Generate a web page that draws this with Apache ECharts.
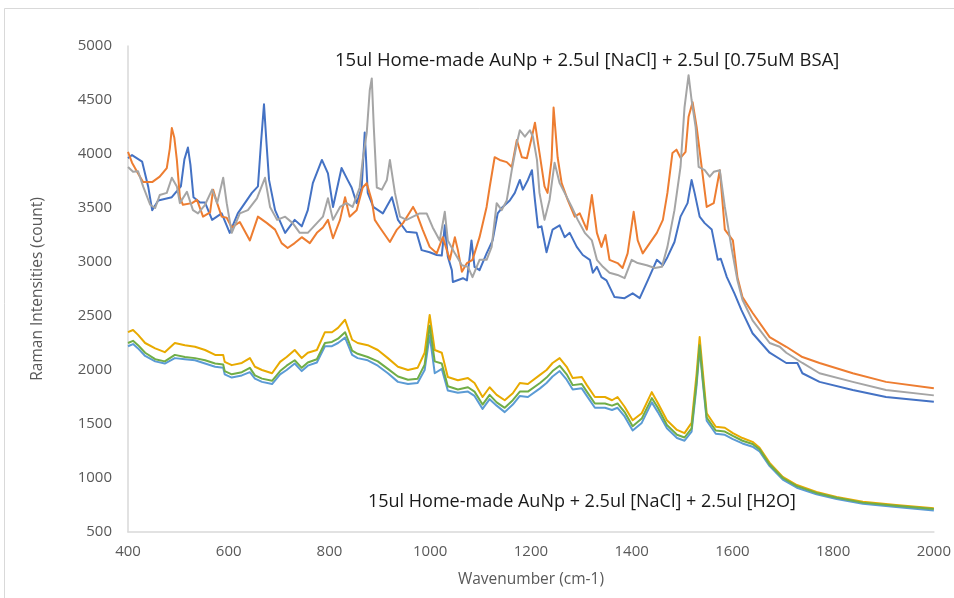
<!DOCTYPE html>
<html>
<head>
<meta charset="utf-8">
<script src="https://cdn.jsdelivr.net/npm/echarts@6/dist/echarts.min.js"></script>
<style>
  html, body { margin: 0; padding: 0; background: #ffffff; }
  #chart { width: 954px; height: 598px; }
</style>
</head>
<body>
<div id="chart"></div>
<script>
// Raman spectra: [wavenumber (cm-1), intensity (count)]

// 15ul AuNp + 2.5ul NaCl + 2.5ul 0.75uM BSA (three runs)
const bsaRun1 = [[400,3960],[408,3990],[428,3930],[440,3700],[448,3480],[460,3570],[487,3600],[505,3700],[512,3950],[519,4060],[524,3900],[530,3600],[543,3550],[553,3550],[567,3390],[586,3450],[602,3270],[618,3450],[646,3640],[658,3700],[664,4100],[670,4460],[675,4100],[680,3760],[692,3480],[712,3270],[731,3390],[745,3330],[757,3480],[767,3730],[785,3945],[797,3820],[807,3510],[824,3870],[836,3760],[844,3690],[854,3545],[864,3690],[870,4200],[876,3640],[887,3510],[906,3450],[924,3600],[936,3390],[953,3280],[973,3270],[983,3110],[999,3090],[1013,3065],[1023,3060],[1029,3340],[1035,3050],[1043,2925],[1045,2815],[1065,2850],[1073,2830],[1082,3200],[1088,2955],[1098,2925],[1112,3080],[1124,3200],[1134,3450],[1144,3510],[1158,3570],[1168,3640],[1178,3760],[1184,3670],[1194,3760],[1202,3850],[1208,3570],[1214,3320],[1221,3330],[1231,3090],[1243,3300],[1257,3340],[1267,3230],[1277,3270],[1291,3140],[1303,3065],[1317,3020],[1323,2900],[1331,2955],[1340,2860],[1350,2830],[1366,2675],[1386,2665],[1402,2710],[1416,2665],[1432,2830],[1450,3020],[1462,2970],[1471,3045],[1485,3185],[1497,3420],[1511,3545],[1519,3760],[1525,3640],[1535,3420],[1545,3360],[1559,3300],[1571,3020],[1577,3030],[1589,2860],[1604,2710],[1618,2555],[1640,2340],[1674,2160],[1707,2065],[1729,2065],[1739,1970],[1773,1890],[1839,1815],[1905,1750],[2000,1705]];

const bsaRun2 = [[400,4020],[408,3920],[420,3820],[430,3740],[448,3740],[463,3790],[477,3870],[483,4050],[487,4240],[492,4150],[497,3945],[503,3600],[509,3530],[527,3545],[537,3575],[549,3420],[563,3460],[569,3670],[577,3545],[586,3420],[596,3410],[606,3320],[622,3370],[642,3200],[658,3420],[676,3360],[692,3300],[705,3175],[717,3130],[731,3175],[745,3230],[761,3175],[775,3270],[787,3320],[797,3390],[807,3220],[821,3390],[831,3600],[840,3420],[854,3480],[866,3690],[874,3730],[884,3570],[890,3390],[900,3320],[920,3185],[934,3300],[946,3360],[966,3510],[973,3450],[985,3300],[999,3140],[1013,3080],[1025,3230],[1039,3020],[1049,3230],[1055,3110],[1063,2910],[1073,2990],[1084,3020],[1098,3230],[1112,3510],[1118,3690],[1128,3970],[1138,3945],[1152,3925],[1162,3880],[1172,4130],[1182,3970],[1192,3960],[1202,4160],[1208,4290],[1214,4100],[1217,4010],[1227,3700],[1233,3640],[1241,3945],[1245,4430],[1253,3970],[1261,3730],[1273,3575],[1287,3420],[1297,3450],[1311,3300],[1321,3620],[1331,3270],[1340,3140],[1348,3250],[1356,3020],[1372,2990],[1382,2945],[1392,3080],[1404,3465],[1412,3200],[1422,3080],[1436,3175],[1450,3270],[1462,3390],[1471,3640],[1481,4010],[1489,4040],[1497,3965],[1507,4020],[1513,4345],[1521,4480],[1529,4250],[1539,3880],[1549,3510],[1563,3545],[1575,3850],[1585,3300],[1601,3200],[1610,2860],[1620,2675],[1640,2530],[1674,2305],[1707,2215],[1739,2120],[1773,2065],[1839,1970],[1905,1890],[2000,1830]];

const bsaRun3 = [[400,3880],[410,3835],[420,3840],[430,3700],[444,3530],[454,3500],[463,3620],[477,3640],[487,3780],[497,3700],[503,3545],[517,3650],[529,3480],[539,3450],[553,3530],[567,3670],[577,3545],[589,3780],[596,3545],[606,3270],[622,3450],[638,3480],[656,3590],[672,3780],[682,3510],[696,3390],[712,3420],[727,3360],[741,3270],[757,3270],[775,3360],[787,3420],[797,3590],[807,3390],[821,3510],[834,3545],[846,3510],[860,3690],[866,3945],[874,4195],[880,4590],[884,4700],[888,4250],[894,3690],[904,3670],[914,3760],[920,3945],[930,3640],[940,3420],[953,3390],[966,3420],[979,3450],[993,3450],[1005,3320],[1019,3200],[1029,3465],[1035,3200],[1049,3080],[1063,2970],[1075,2955],[1084,2860],[1098,3020],[1112,3020],[1122,3140],[1132,3545],[1142,3480],[1152,3570],[1162,3850],[1172,4100],[1178,4220],[1188,4160],[1198,4220],[1204,4160],[1212,3945],[1217,3640],[1227,3390],[1237,3575],[1247,3920],[1257,3730],[1267,3640],[1281,3510],[1293,3390],[1307,3270],[1321,3200],[1331,3020],[1343,2955],[1356,2900],[1372,2880],[1386,2850],[1400,3020],[1412,2990],[1430,2970],[1446,2945],[1460,2955],[1471,3140],[1485,3480],[1497,3880],[1505,4435],[1513,4730],[1519,4500],[1527,4250],[1533,3880],[1545,3850],[1555,3790],[1563,3835],[1575,3850],[1585,3510],[1598,3140],[1610,2830],[1620,2650],[1640,2460],[1674,2250],[1694,2215],[1707,2160],[1739,2065],[1773,1970],[1839,1890],[1905,1815],[2000,1765]];

// 15ul AuNp + 2.5ul NaCl + 2.5ul H2O (three runs), shared wavenumber grid
const waterWavenumbers = [400,410,420,434,454,473,493,513,533,553,573,589,592,606,626,642,652,666,686,702,715,731,745,757,775,791,805,817,831,845,856,876,896,916,936,956,975,989,999,1009,1023,1035,1055,1075,1088,1104,1118,1132,1148,1164,1178,1194,1218,1231,1243,1257,1271,1283,1301,1311,1327,1347,1361,1372,1386,1402,1420,1440,1452,1470,1490,1505,1519,1529,1535,1541,1549,1567,1585,1601,1620,1640,1654,1674,1700,1728,1767,1807,1859,1925,2000];

const waterRun1 = [2350,2370,2325,2250,2200,2165,2250,2230,2215,2185,2140,2140,2075,2045,2065,2110,2030,2000,1970,2075,2120,2185,2110,2160,2185,2350,2350,2390,2465,2280,2250,2230,2185,2110,2030,2000,2020,2160,2510,2185,2160,1935,1905,1925,1880,1750,1840,1770,1720,1785,1880,1870,1955,2000,2065,2110,2030,1925,1935,1860,1750,1750,1720,1750,1660,1535,1600,1795,1695,1535,1445,1415,1510,1970,2305,2000,1600,1475,1465,1415,1370,1335,1280,1140,1010,935,870,825,780,750,720];

const waterRun2 = [2220,2240,2200,2130,2080,2060,2110,2100,2090,2060,2030,2020,1960,1930,1950,1980,1920,1890,1870,1960,2000,2060,1990,2040,2070,2220,2220,2250,2300,2140,2110,2090,2040,1970,1890,1870,1880,2000,2320,1970,2010,1810,1790,1800,1760,1640,1730,1670,1610,1680,1760,1750,1830,1880,1940,1990,1910,1820,1830,1760,1650,1650,1630,1650,1570,1440,1510,1700,1610,1460,1370,1345,1430,1860,2200,1900,1530,1410,1400,1360,1320,1290,1245,1110,985,910,850,805,762,732,700];

const waterRun3 = [2250,2270,2230,2160,2100,2080,2140,2120,2110,2090,2060,2050,1990,1960,1980,2020,1950,1920,1900,1990,2040,2090,2020,2070,2100,2250,2260,2290,2350,2180,2150,2120,2080,2010,1940,1910,1920,2050,2410,2080,2060,1850,1820,1840,1800,1680,1770,1700,1650,1720,1800,1800,1880,1930,1990,2040,1960,1860,1870,1800,1690,1690,1670,1690,1610,1480,1550,1740,1650,1490,1400,1375,1460,1900,2230,1930,1560,1440,1430,1390,1345,1315,1265,1125,1000,925,862,818,772,742,712];

const xTicks = { min: 400, max: 2000, step: 200 };
const yTicks = { min: 500, max: 5000, step: 500 };

const labelTop = '15ul Home-made AuNp + 2.5ul [NaCl] + 2.5ul [0.75uM BSA]';
const labelBottom = '15ul Home-made AuNp + 2.5ul [NaCl] + 2.5ul [H2O]';

const pair = (xs, ys) => xs.map((x, i) => [x, ys[i]]);

const FONT = '"Open Sans", "Liberation Sans", sans-serif';
const chart = echarts.init(document.getElementById('chart'), null, { renderer: 'canvas' });

function lineSeries(name, data, color) {
  return {
    name, type: 'line', data,
    showSymbol: false, symbol: 'none',
    lineStyle: { color, width: 2, join: 'round' },
    itemStyle: { color },
    emphasis: { disabled: true },
    animation: false
  };
}

const plainNumber = (v) => String(v);

chart.setOption({
  backgroundColor: '#ffffff',
  animation: false,
  grid: { left: 128, right: 19, top: 46, bottom: 66, containLabel: false },
  xAxis: {
    type: 'value',
    min: xTicks.min, max: xTicks.max, interval: xTicks.step,
    name: 'Wavenumber (cm-1)',
    nameLocation: 'middle', nameGap: 40,
    nameTextStyle: { color: '#595959', fontSize: 15.5, fontFamily: FONT },
    axisLine: { show: true, lineStyle: { color: '#D9D9D9', width: 1.5 } },
    axisTick: { show: false },
    splitLine: { show: false },
    axisLabel: { color: '#595959', fontSize: 15, fontFamily: FONT, margin: 12, formatter: plainNumber }
  },
  yAxis: {
    type: 'value',
    min: yTicks.min, max: yTicks.max, interval: yTicks.step,
    name: 'Raman Intensities (count)',
    nameLocation: 'middle', nameGap: 82,
    nameTextStyle: { color: '#595959', fontSize: 15.5, fontFamily: FONT },
    axisLine: { show: true, lineStyle: { color: '#D9D9D9', width: 1.5 } },
    axisTick: { show: false },
    splitLine: { show: false },
    axisLabel: { color: '#595959', fontSize: 15, fontFamily: FONT, margin: 16, formatter: plainNumber }
  },
  graphic: [
    {
      type: 'rect', silent: true, z: -1,
      shape: { x: 4.5, y: 8.5, width: 980, height: 620 },
      style: { fill: 'none', stroke: '#D9D9D9', lineWidth: 1 }
    },
    {
      type: 'text', left: 335, top: 51, silent: true,
      style: { text: labelTop, fill: '#1a1a1a', fontSize: 18.5, fontFamily: FONT }
    },
    {
      type: 'text', left: 368, top: 493, silent: true,
      style: { text: labelBottom, fill: '#1a1a1a', fontSize: 18, fontFamily: FONT }
    }
  ],
  series: [
    lineSeries('BSA 1', bsaRun1, '#4472C4'),
    lineSeries('BSA 2', bsaRun2, '#ED7D31'),
    lineSeries('BSA 3', bsaRun3, '#A5A5A5'),
    lineSeries('H2O 1', pair(waterWavenumbers, waterRun1), '#E8AA00'),
    lineSeries('H2O 2', pair(waterWavenumbers, waterRun2), '#5B9BD5'),
    lineSeries('H2O 3', pair(waterWavenumbers, waterRun3), '#70AD47')
  ]
});
</script>
</body>
</html>
